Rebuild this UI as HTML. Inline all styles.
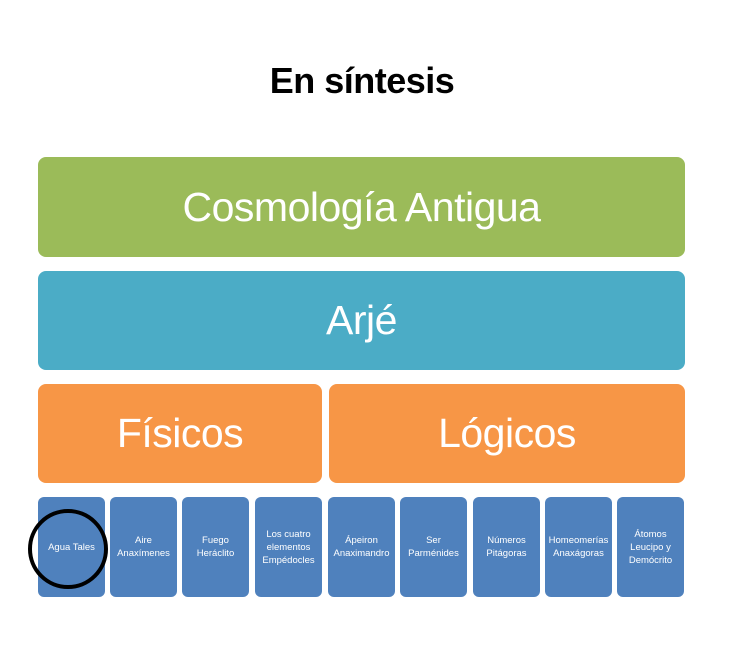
<!DOCTYPE html>
<html><head><meta charset="utf-8"><style>
body{margin:0;width:738px;height:670px;background:#fff;position:relative;overflow:hidden;font-family:"Liberation Sans Narrow","Liberation Sans",sans-serif;}
.b{position:absolute;border-radius:8px;color:#fff;display:flex;align-items:center;justify-content:center;text-align:center;}
.s{background:#4f81bd;top:497px;height:100px;width:67px;font-size:9.5px;line-height:13px;border-radius:6px;}
.L{font-size:41px;letter-spacing:-0.5px}
</style></head><body>
<div style="position:absolute;left:-7px;width:738px;top:60px;text-align:center;font-family:'Liberation Sans',sans-serif;font-weight:bold;font-size:36px;letter-spacing:-0.5px;color:#000">En síntesis</div>
<div class="b L" style="left:38px;top:157px;width:647px;height:100px;background:#9bbb59">Cosmología Antigua</div>
<div class="b L" style="left:38px;top:271px;width:647px;height:99px;background:#4bacc6">Arjé</div>
<div class="b L" style="left:38px;top:384px;width:284px;height:99px;background:#f79646">Físicos</div>
<div class="b L" style="left:329px;top:384px;width:356px;height:99px;background:#f79646">Lógicos</div>
<div class="b s" style="left:38px">Agua Tales</div>
<div class="b s" style="left:110px">Aire<br>Anaxímenes</div>
<div class="b s" style="left:182px">Fuego<br>Heráclito</div>
<div class="b s" style="left:255px">Los cuatro<br>elementos<br>Empédocles</div>
<div class="b s" style="left:328px">Ápeiron<br>Anaximandro</div>
<div class="b s" style="left:400px">Ser<br>Parménides</div>
<div class="b s" style="left:473px">Números<br>Pitágoras</div>
<div class="b s" style="left:545px">Homeomerías<br>Anaxágoras</div>
<div class="b s" style="left:617px">Átomos<br>Leucipo y<br>Demócrito</div>
<div style="position:absolute;left:28px;top:509px;width:72px;height:72px;border:4px solid #000;border-radius:50%"></div>
</body></html>
